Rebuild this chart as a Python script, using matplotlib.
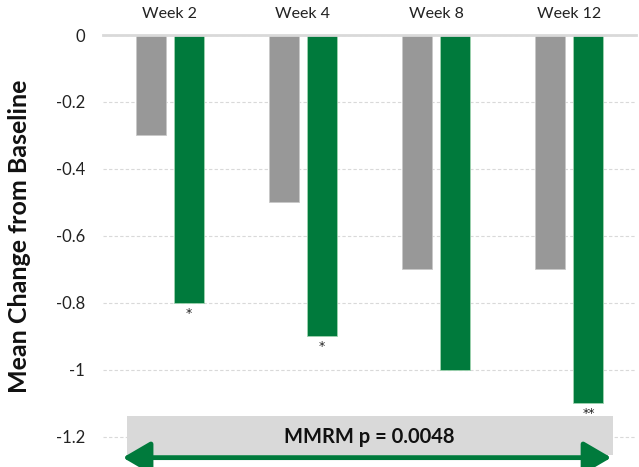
import matplotlib
matplotlib.use("Agg")
import matplotlib.pyplot as plt
from matplotlib.patches import Rectangle, FancyArrowPatch
import numpy as np

plt.rcParams['font.family'] = ['Lato', 'DejaVu Sans']

weeks = ["Week 2", "Week 4", "Week 8", "Week 12"]
placebo = [-0.3, -0.5, -0.7, -0.7]
treatment = [-0.8, -0.9, -1.0, -1.1]
stars = ["*", "*", "", "**"]
yticks = [0, -0.2, -0.4, -0.6, -0.8, -1, -1.2]
ytick_labels = ["0", "-0.2", "-0.4", "-0.6", "-0.8", "-1", "-1.2"]

gray = "#989898"
green = "#007a3c"

fig = plt.figure(figsize=(6.39, 4.67), dpi=100)
ax = fig.add_axes([103 / 639, 0, 533 / 639, 1 - 35 / 467])

x = np.arange(len(weeks))
w = 0.225
off = 0.143
ax.bar(x - off, placebo, w, color=gray, edgecolor="#c8c8c8", linewidth=0.6, zorder=3)
ax.bar(x + off, treatment, w, color=green, edgecolor="#9fd3b0", linewidth=0.6, zorder=3)

for xi, v, s in zip(x, treatment, stars):
    if s:
        ax.text(xi + off, v - 0.012, s, ha="center", va="top", fontsize=9,
                family="DejaVu Sans", color="#222222")

ax.set_xlim(-0.5, 3.5)
ax.set_ylim(-1.29, 0)
ax.set_yticks(yticks)
ax.set_yticklabels(ytick_labels)
ax.grid(axis="y", color="#d9d9d9", linestyle=(0, (3, 2)), linewidth=0.8, zorder=0)
ax.axhline(0, color="#d9d9d9", linewidth=2, zorder=4, clip_on=False)
for sp in ax.spines.values():
    sp.set_visible(False)

ax.xaxis.tick_top()
ax.set_xticks(x)
ax.set_xticklabels(weeks)
ax.tick_params(axis="x", length=0, pad=10, labelsize=11.5, labelcolor="#222222")
ax.tick_params(axis="y", length=0, pad=13, labelsize=12, labelcolor="#222222")

ax.set_ylabel("Mean Change from Baseline", fontsize=18, fontweight="bold", color="#111111")
ax.yaxis.set_label_coords(-0.135, 0.535)

# p-value box with arrow
ax.add_patch(Rectangle((-0.32, -1.254), 3.647, 0.117, facecolor="#d9d9d9",
                       edgecolor="none", zorder=2, clip_on=False))
ax.text(1.5, -1.2, "MMRM p = 0.0048", ha="center", va="center", fontsize=14.5,
        fontweight="bold", color="#111111", zorder=5)
arrow = FancyArrowPatch((-0.372, -1.262), (3.335, -1.262),
                        arrowstyle="<|-|>,head_length=1.2,head_width=0.7",
                        mutation_scale=14, color=green, linewidth=3.5,
                        zorder=6, clip_on=False)
ax.add_patch(arrow)

fig.savefig("out.png", dpi=100)
